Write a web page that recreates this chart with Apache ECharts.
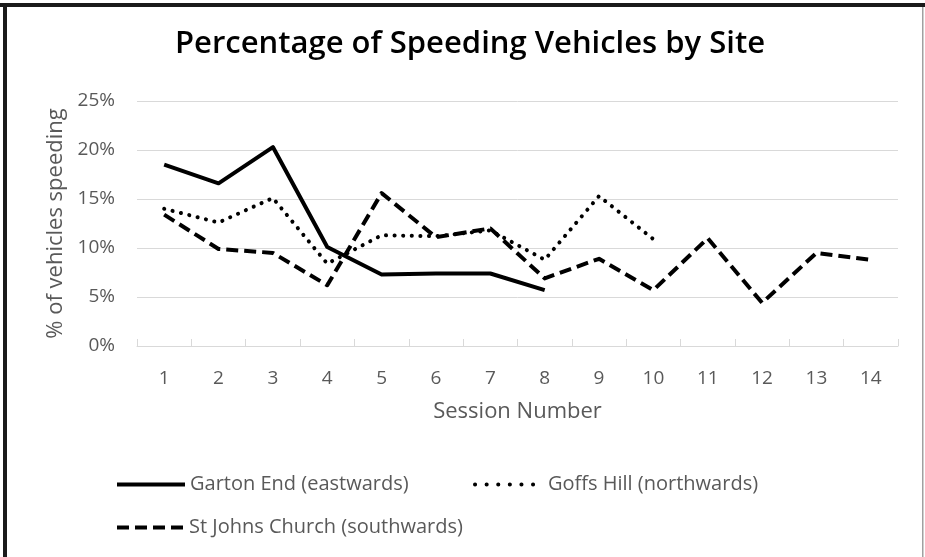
<!DOCTYPE html>
<html>
<head>
<meta charset="utf-8">
<script src="https://cdn.jsdelivr.net/npm/echarts@6/dist/echarts.min.js"></script>
<style>
  html, body { margin: 0; padding: 0; background: #ffffff; }
  #chart { width: 925px; height: 557px; }
</style>
</head>
<body>
<div id="chart"></div>
<script>
// ---- Data ----
var sessions = ['1', '2', '3', '4', '5', '6', '7', '8', '9', '10', '11', '12', '13', '14'];
var gartonEnd = [18.5, 16.6, 20.3, 10.1, 7.3, 7.4, 7.4, 5.7];
var goffsHill = [14.0, 12.6, 15.1, 8.4, 11.3, 11.2, 11.8, 8.8, 15.3, 10.9];
var stJohns = [13.4, 9.9, 9.5, 6.2, 15.6, 11.1, 12.0, 6.9, 8.9, 5.7, 11.0, 4.4, 9.5, 8.8];
var seriesNames = ['Garton End (eastwards)', 'Goffs Hill (northwards)', 'St Johns Church (southwards)'];
var yTicks = { min: 0, max: 25, interval: 5 };

var FONT = 'Open Sans';
var TXT = '#595959';
var GRID = '#d9d9d9';

var chart = echarts.init(document.getElementById('chart'), null, { renderer: 'canvas' });

var legendText = { fontFamily: FONT, fontSize: 20, color: TXT };
var solidStyle = { color: '#000000', width: 4, type: 'solid', join: 'round', cap: 'butt' };
var dotStyle = { color: '#000000', width: 4, type: [0.1, 8.5], cap: 'round', join: 'round' };
var dashStyle = { color: '#000000', width: 4, type: [12, 6], cap: 'butt', join: 'round' };
var dotLegendStyle = { color: '#000000', width: 4, type: [0.1, 11.5], cap: 'round' };

function legendFor(name, left, top, w, ls) {
  return {
    data: [name], left: left, top: top, padding: 0,
    itemWidth: w, itemHeight: 26,
    itemStyle: { opacity: 0, borderWidth: 0 },
    lineStyle: ls,
    textStyle: legendText
  };
}

chart.setOption({
  backgroundColor: '#ffffff',
  animation: false,
  title: {
    text: 'Percentage of Speeding Vehicles by Site',
    left: 175,
    top: 29,
    padding: 0,
    textStyle: { fontFamily: FONT, fontSize: 31, fontWeight: 600, color: '#000000' }
  },
  grid: { left: 137, right: 27, top: 101, bottom: 211, containLabel: false },
  legend: [
    legendFor(seriesNames[0], 115, 474, 68, solidStyle),
    legendFor(seriesNames[1], 473, 474, 68, dotLegendStyle),
    legendFor(seriesNames[2], 115, 517, 67, dashStyle)
  ],
  xAxis: {
    type: 'category',
    data: sessions,
    boundaryGap: true,
    name: 'Session Number',
    nameLocation: 'middle',
    nameGap: 55,
    nameTextStyle: { fontFamily: FONT, fontSize: 22, color: TXT },
    axisLine: { show: true, lineStyle: { color: GRID, width: 1 } },
    axisTick: { show: true, inside: true, length: 7, interval: 0, lineStyle: { color: GRID } },
    axisLabel: { fontFamily: FONT, fontSize: 19, color: TXT, margin: 23, interval: 0 }
  },
  yAxis: {
    type: 'value',
    min: yTicks.min,
    max: yTicks.max,
    interval: yTicks.interval,
    name: '% of vehicles speeding',
    nameLocation: 'middle',
    nameGap: 70,
    nameTextStyle: { fontFamily: FONT, fontSize: 22, color: TXT },
    axisLine: { show: false },
    axisTick: { show: false },
    axisLabel: { fontFamily: FONT, fontSize: 19, color: TXT, margin: 22, formatter: '{value}%' },
    splitLine: { show: true, lineStyle: { color: GRID, width: 1 } }
  },
  series: [
    {
      name: seriesNames[2], type: 'line', data: stJohns, symbol: 'none', showSymbol: false,
      lineStyle: dashStyle, itemStyle: { color: '#000000' }, z: 2
    },
    {
      name: seriesNames[1], type: 'line', data: goffsHill, symbol: 'none', showSymbol: false,
      lineStyle: dotStyle, itemStyle: { color: '#000000' }, z: 3
    },
    {
      name: seriesNames[0], type: 'line', data: gartonEnd, symbol: 'none', showSymbol: false,
      lineStyle: solidStyle, itemStyle: { color: '#000000' }, z: 4
    }
  ],
  graphic: [
    { type: 'rect', shape: { x: 0, y: 3, width: 925, height: 4 }, style: { fill: '#1a1a1a' }, silent: true },
    { type: 'rect', shape: { x: 3, y: 3, width: 4, height: 554 }, style: { fill: '#1a1a1a' }, silent: true },
    { type: 'rect', shape: { x: 922, y: 7, width: 1.5, height: 550 }, style: { fill: '#a0a0a0' }, silent: true }
  ]
});
</script>
</body>
</html>
